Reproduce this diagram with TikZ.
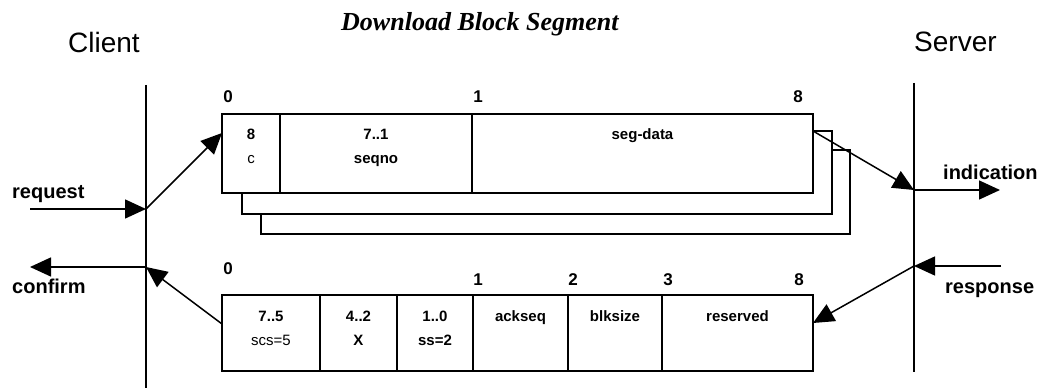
\documentclass[tikz,border=0pt]{standalone}
\usepackage{fontspec}
\setmainfont{Liberation Sans}
\newfontfamily\titlefont{Liberation Serif}
\usetikzlibrary{matrix,arrows.meta}
\tikzset{
frame/.style={matrix of nodes,draw,fill=white,line width=1.5pt,
inner xsep=0pt,inner ysep=9pt,outer sep=0pt,
nodes in empty cells,column sep=0pt,row sep=0pt,
nodes={inner sep=0pt,outer sep=0pt,minimum height=24pt,text height=11pt,text depth=1pt,
align=center,anchor=center,font=\fontsize{15}{18}\selectfont\bfseries}},
cellnorm/.style={font=\fontsize{15}{18}\selectfont},
shadowbox/.style={draw,fill=white,line width=1.5pt},
lifeline/.style={line width=1.5pt},
conn/.style={line width=1.5pt,-{Triangle[length=21pt,width=19pt]}},
lbl/.style={font=\fontsize{20}{24}\selectfont\bfseries,anchor=base west,inner sep=0pt},
side/.style={font=\fontsize{28}{32}\selectfont,anchor=base west,inner sep=0pt},
byte/.style={font=\fontsize{17}{20}\selectfont\bfseries,anchor=base,inner sep=0pt}
}
\begin{document}
\begin{tikzpicture}[x=1pt,y=-1pt]
\useasboundingbox (0,0) rectangle (1053,390);
% title and the two sides
\node[font=\titlefont\fontsize{26}{30}\selectfont\bfseries\itshape,anchor=base west,inner sep=0pt] (title) at (341,31) {Download Block Segment};
\node[side] (client) at (68,53) {Client};
\node[side] (server) at (914,52) {Server};
\draw[lifeline] (146,85) coordinate (cl top) -- (146,388) coordinate (cl bot);
\draw[lifeline] (914,83) coordinate (sv top) -- (914,372) coordinate (sv bot);
% segments behind
\draw[shadowbox] (261,150) rectangle (850,234);
\draw[shadowbox] (242,131) rectangle (832,214);
% download segment
\matrix (seg) [frame,
column 1/.style={text width=58pt},
column 2/.style={text width=192pt},
column 3/.style={text width=341pt},
row 3/.style={nodes={minimum height=13pt,text height=0pt,text depth=0pt}}
] at (517.5,153.5) {
8 & 7..1 & seg-data \\
|[cellnorm]| c & seqno & \\
& & \\
};
\foreach \c in {2,3}
\draw[lifeline] (seg-1-\c.west |- seg.north) -- (seg-1-\c.west |- seg.south);
\node[byte] (s0) at (228,103) {0};
\node[byte] (s1) at (478,103) {1};
\node[byte] (s8) at (798,103) {8};
% acknowledge
\matrix (ack) [frame,
column 1/.style={text width=98pt},
column 2/.style={text width=77pt},
column 3/.style={text width=76pt},
column 4/.style={text width=95pt},
column 5/.style={text width=94pt},
column 6/.style={text width=151pt},
row 3/.style={nodes={minimum height=10pt,text height=0pt,text depth=0pt}}
] at (517.5,333) {
7..5 & 4..2 & 1..0 & ackseq & blksize & reserved \\
|[cellnorm]| scs=5 & X & ss=2 & & & \\
& & & & & \\
};
\foreach \c in {2,...,6}
\draw[lifeline] (ack-1-\c.west |- ack.north) -- (ack-1-\c.west |- ack.south);
\node[byte] (a0) at (228,275) {0};
\node[byte] (a1) at (478,286) {1};
\node[byte] (a2) at (573,286) {2};
\node[byte] (a3) at (668,286) {3};
\node[byte] (a8) at (799,286) {8};
% primitives
\coordinate (req in) at (30,209);
\coordinate (req) at (146,209);
\coordinate (ind) at (914,190);
\coordinate (ind out) at (1000,190);
\coordinate (conf) at (146,267);
\coordinate (conf out) at (30,267);
\coordinate (resp in) at (1001,266);
\coordinate (resp) at (914,266);
\node[lbl] (request) at (12,199) {request};
\node[lbl] (indication) at (943,180) {indication};
\node[lbl] (confirm) at (12,294) {confirm};
\node[lbl] (response) at (945,294) {response};
\draw[conn] (req in) -- (req);
\draw[conn] (req) -- ([yshift=-19pt]seg.north west);
\draw[conn] ([yshift=-17pt]seg.north east) -- (ind);
\draw[conn] (ind) -- (ind out);
\draw[conn] (conf) -- (conf out);
\draw[conn] ([yshift=-29pt]ack.north west) -- (conf);
\draw[conn] (resp in) -- (resp);
\draw[conn] (resp) -- ([yshift=-28pt]ack.north east);
\end{tikzpicture}
\end{document}
